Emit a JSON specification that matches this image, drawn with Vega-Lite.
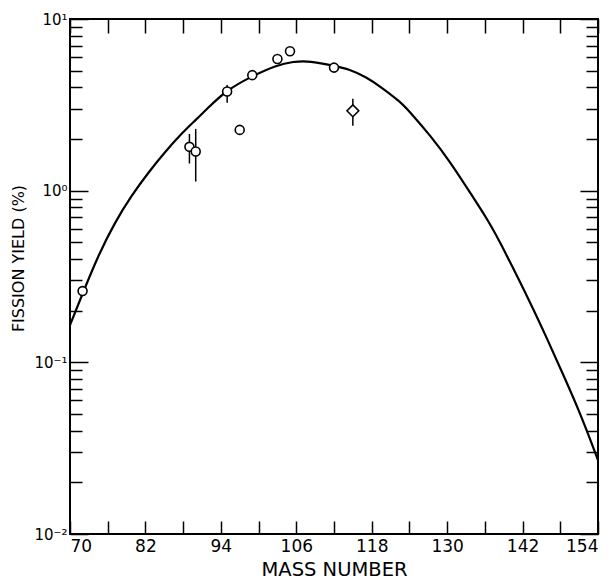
{
  "$schema": "https://vega.github.io/schema/vega-lite/v6.json",
  "width": 528,
  "height": 515,
  "autosize": "none",
  "padding": {"left": 70, "top": 19, "right": 13, "bottom": 45},
  "background": "white",
  "config": {
    "view": {"stroke": "black", "strokeWidth": 2},
    "axis": {
      "grid": false,
      "domain": false,
      "tickColor": "black",
      "tickWidth": 1.5,
      "labelColor": "black",
      "labelFont": "DejaVu Sans",
      "titleColor": "black",
      "titleFont": "DejaVu Sans",
      "titleFontWeight": "normal"
    }
  },
  "datasets": {
    "curve": [
      {"A": 70, "Y": 0.165},
      {"A": 71.9, "Y": 0.246},
      {"A": 74.5, "Y": 0.421},
      {"A": 77.2, "Y": 0.66},
      {"A": 79.8, "Y": 0.939},
      {"A": 82.5, "Y": 1.28},
      {"A": 85.1, "Y": 1.68},
      {"A": 88, "Y": 2.2},
      {"A": 89.9, "Y": 2.56},
      {"A": 92.4, "Y": 3.15},
      {"A": 94.9, "Y": 3.83},
      {"A": 98.6, "Y": 4.58},
      {"A": 102.9, "Y": 5.4},
      {"A": 105.5, "Y": 5.65},
      {"A": 108.2, "Y": 5.7},
      {"A": 111.8, "Y": 5.35},
      {"A": 114.5, "Y": 5.1},
      {"A": 117.2, "Y": 4.57},
      {"A": 119.3, "Y": 4.06},
      {"A": 122.5, "Y": 3.31},
      {"A": 124.1, "Y": 2.87},
      {"A": 127.3, "Y": 2.1},
      {"A": 130.5, "Y": 1.47},
      {"A": 133.6, "Y": 0.98},
      {"A": 136.8, "Y": 0.646},
      {"A": 138.4, "Y": 0.501},
      {"A": 141.6, "Y": 0.295},
      {"A": 143.7, "Y": 0.204},
      {"A": 145.8, "Y": 0.14},
      {"A": 148.5, "Y": 0.0841},
      {"A": 151.1, "Y": 0.0513},
      {"A": 153.8, "Y": 0.0282},
      {"A": 154, "Y": 0.0269}
    ],
    "points": [
      {"A": 72, "Y": 0.26, "kind": "circle"},
      {"A": 89, "Y": 1.8, "lo": 1.44, "hi": 2.14, "kind": "circle"},
      {"A": 90, "Y": 1.69, "lo": 1.13, "hi": 2.29, "kind": "circle"},
      {"A": 95, "Y": 3.78, "lo": 3.25, "hi": 4.13, "kind": "circle"},
      {"A": 97, "Y": 2.26, "kind": "circle"},
      {"A": 99, "Y": 4.71, "kind": "circle"},
      {"A": 103, "Y": 5.85, "kind": "circle"},
      {"A": 105, "Y": 6.49, "kind": "circle"},
      {"A": 112, "Y": 5.21, "kind": "circle"},
      {"A": 115, "Y": 2.92, "lo": 2.39, "hi": 3.43, "kind": "diamond"}
    ]
  },
  "layer": [
    {
      "data": {"name": "curve"},
      "mark": {"type": "line", "color": "black", "strokeWidth": 2.2, "interpolate": "basis"},
      "encoding": {
        "x": {
          "field": "A", "type": "quantitative",
          "scale": {"domain": [70, 154], "nice": false, "zero": false},
          "axis": {
            "orient": "bottom",
            "values": [70, 76, 82, 88, 94, 100, 106, 112, 118, 124, 130, 136, 142, 148, 154],
            "labelExpr": "datum.value % 12 == 10 ? datum.label : ''",
            "tickSize": -13,
            "labelFontSize": 17,
            "labelPadding": 17,
            "title": "MASS NUMBER",
            "titleFontSize": 19.5,
            "titleBaseline": "alphabetic",
            "titleY": 41
          }
        },
        "y": {
          "field": "Y", "type": "quantitative",
          "scale": {"type": "log", "domain": [0.01, 10], "nice": false},
          "axis": {
            "orient": "left",
            "values": [0.01, 0.02, 0.03, 0.04, 0.05, 0.06, 0.07, 0.08, 0.09, 0.1, 0.2, 0.3, 0.4, 0.5, 0.6, 0.7, 0.8, 0.9, 1, 2, 3, 4, 5, 6, 7, 8, 9, 10],
            "labelExpr": "datum.value == 10 ? '10¹' : datum.value == 1 ? '10⁰' : datum.value == 0.1 ? '10⁻¹' : datum.value == 0.01 ? '10⁻²' : ''",
            "tickSize": {"condition": {"test": "datum.value == 10 || datum.value == 1 || datum.value == 0.1 || datum.value == 0.01", "value": -18}, "value": -12},
            "labelFontSize": 15,
            "labelPadding": 21,
            "labelBaseline": "middle",
            "title": "FISSION YIELD (%)",
            "titleFontSize": 16,
            "titleBaseline": "alphabetic",
            "titleAlign": "center",
            "titleX": -47,
            "titleY": 239
          }
        }
      }
    },
    {
      "data": {"name": "points"},
      "transform": [{"filter": "isValid(datum.lo)"}],
      "mark": {"type": "rule", "color": "black", "strokeWidth": 1.5},
      "encoding": {
        "x": {"field": "A", "type": "quantitative", "axis": null},
        "y": {"field": "lo", "type": "quantitative", "axis": null},
        "y2": {"field": "hi"}
      }
    },
    {
      "data": {"name": "points"},
      "mark": {"type": "point", "filled": true, "fill": "white", "stroke": "black", "strokeWidth": 1.6, "opacity": 1, "fillOpacity": 1},
      "encoding": {
        "x": {
          "field": "A", "type": "quantitative",
          "axis": {
            "orient": "top",
            "values": [70, 76, 82, 88, 94, 100, 106, 112, 118, 124, 130, 136, 142, 148, 154],
            "labels": false,
            "tickSize": -14,
            "title": null
          }
        },
        "y": {
          "field": "Y", "type": "quantitative",
          "axis": {
            "orient": "right",
            "values": [0.01, 0.02, 0.03, 0.04, 0.05, 0.06, 0.07, 0.08, 0.09, 0.1, 0.2, 0.3, 0.4, 0.5, 0.6, 0.7, 0.8, 0.9, 1, 2, 3, 4, 5, 6, 7, 8, 9, 10],
            "labels": false,
            "tickSize": {"condition": {"test": "datum.value == 10 || datum.value == 1 || datum.value == 0.1 || datum.value == 0.01", "value": -18}, "value": -12},
            "title": null
          }
        },
        "shape": {"field": "kind", "type": "nominal", "scale": {"domain": ["circle", "diamond"], "range": ["circle", "diamond"]}, "legend": null},
        "size": {"field": "kind", "type": "nominal", "scale": {"domain": ["circle", "diamond"], "range": [80, 140]}, "legend": null}
      }
    }
  ],
  "resolve": {"axis": {"x": "independent", "y": "independent"}}
}
